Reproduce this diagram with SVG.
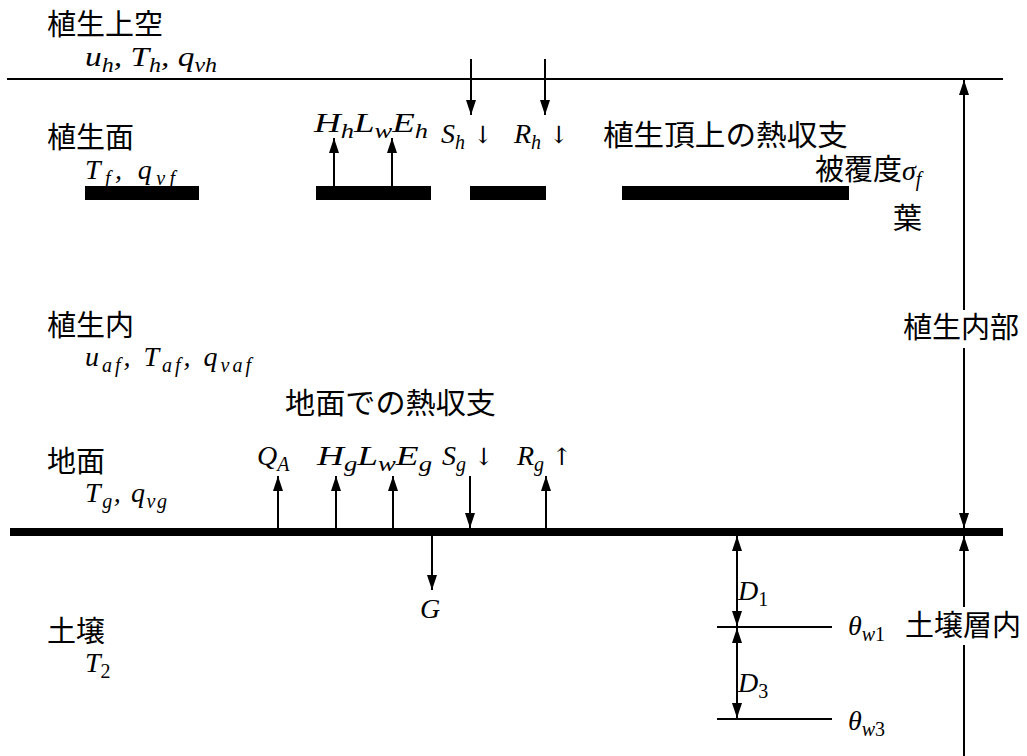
<svg xmlns="http://www.w3.org/2000/svg" width="1027" height="756" viewBox="0 0 1027 756">
<style>
.jp{font-family:"Noto Sans CJK JP","Noto Sans CJK SC",sans-serif;font-size:29px;fill:#000}
.m{font-family:"Liberation Serif",serif;font-style:italic;font-size:28px;fill:#000}
.s{font-size:20px}
.n{font-style:normal}
.ar{font-family:"DejaVu Serif",serif;font-style:normal;font-size:24px}
.ln{stroke:#000;stroke-width:2;fill:none}
.a{stroke:#000;stroke-width:2;fill:none;marker-end:url(#ah)}
.a2{stroke:#000;stroke-width:2;fill:none;marker-end:url(#ah);marker-start:url(#ah)}
.bar{fill:#000}
</style>
<defs>
<marker id="ah" viewBox="0 0 15 10" refX="15" refY="5" markerWidth="15" markerHeight="10" markerUnits="userSpaceOnUse" orient="auto-start-reverse">
<path d="M0,0 L15,5 L0,10 z" fill="#000"/>
</marker>
</defs>
<rect width="1027" height="756" fill="#fff"/>

<g id="above-canopy">
<text class="jp" x="47" y="35">植生上空</text>
<text class="m" x="85" y="66" textLength="132" lengthAdjust="spacingAndGlyphs">u<tspan class="s" dy="6">h</tspan><tspan dy="-6">, T</tspan><tspan class="s" dy="6">h</tspan><tspan dy="-6">, q</tspan><tspan class="s" dy="6">vh</tspan></text>
<line class="ln" x1="7" y1="79" x2="1003" y2="79"/>
</g>

<g id="canopy-surface">
<text class="jp" x="47" y="148">植生面</text>
<text class="m" x="85" y="179" textLength="90" lengthAdjust="spacing">T<tspan class="s" dy="6">f</tspan><tspan dy="-6">, q</tspan><tspan class="s" dy="6">vf</tspan></text>
<rect class="bar" x="85" y="186" width="114" height="14"/>
<rect class="bar" x="316" y="186" width="115" height="14"/>
<rect class="bar" x="470" y="186" width="76" height="14"/>
<rect class="bar" x="622" y="186" width="227" height="14"/>
<text class="m" x="314" y="132" textLength="114" lengthAdjust="spacingAndGlyphs">H<tspan class="s" dy="6">h</tspan><tspan dy="-6">L</tspan><tspan class="s" dy="6">w</tspan><tspan dy="-6">E</tspan><tspan class="s" dy="6">h</tspan></text>
<text class="m" x="441" y="143">S<tspan class="s" dy="6">h</tspan><tspan class="ar" dy="-6"> ↓</tspan></text>
<text class="m" x="514" y="143">R<tspan class="s" dy="6">h</tspan><tspan class="ar" dy="-6"> ↓</tspan></text>
<text class="jp" x="603" y="146" textLength="245" lengthAdjust="spacingAndGlyphs">植生頂上の熱収支</text>
<text class="jp" x="815" y="180">被覆度<tspan class="m">σ</tspan><tspan class="m s" dy="6">f</tspan></text>
<text class="jp" x="893" y="229">葉</text>
</g>

<g id="canopy-interior">
<text class="jp" x="47" y="336">植生内</text>
<text class="m" x="85" y="366" textLength="166" lengthAdjust="spacing">u<tspan class="s" dy="6">af</tspan><tspan dy="-6">, T</tspan><tspan class="s" dy="6">af</tspan><tspan dy="-6">, q</tspan><tspan class="s" dy="6">vaf</tspan></text>
<text class="jp" x="903" y="338">植生内部</text>
</g>

<g id="ground-surface">
<text class="jp" x="285" y="414" textLength="211" lengthAdjust="spacingAndGlyphs">地面での熱収支</text>
<text class="jp" x="47" y="472">地面</text>
<text class="m" x="85" y="502" textLength="82" lengthAdjust="spacing">T<tspan class="s" dy="6">g</tspan><tspan dy="-6">, q</tspan><tspan class="s" dy="6">vg</tspan></text>
<text class="m" x="257" y="465">Q<tspan class="s" dy="6">A</tspan></text>
<text class="m" x="317" y="465" textLength="115" lengthAdjust="spacingAndGlyphs">H<tspan class="s" dy="6">g</tspan><tspan dy="-6">L</tspan><tspan class="s" dy="6">w</tspan><tspan dy="-6">E</tspan><tspan class="s" dy="6">g</tspan></text>
<text class="m" x="442" y="465">S<tspan class="s" dy="6">g</tspan><tspan class="ar" dy="-6"> ↓</tspan></text>
<text class="m" x="517" y="465">R<tspan class="s" dy="6">g</tspan><tspan class="ar" dy="-6"> ↑</tspan></text>
<rect class="bar" x="10" y="528" width="993" height="8"/>
</g>

<g id="soil">
<text class="jp" x="47" y="642">土壌</text>
<text class="m" x="85" y="672">T<tspan class="s n" dy="6">2</tspan></text>
<text class="m" x="420" y="618">G</text>
<line class="ln" x1="717" y1="627" x2="832" y2="627"/>
<line class="ln" x1="717" y1="719" x2="832" y2="719"/>
<text class="m" x="738" y="600">D<tspan class="s n" dy="6">1</tspan></text>
<text class="m" x="738" y="692">D<tspan class="s n" dy="6">3</tspan></text>
<text class="m" x="848" y="635">θ<tspan class="s" dy="6">w</tspan><tspan class="s n">1</tspan></text>
<text class="m" x="848" y="730">θ<tspan class="s" dy="6">w</tspan><tspan class="s n">3</tspan></text>
<text class="jp" x="905" y="636">土壌層内</text>
</g>

<g id="connectors">
<line class="a" x1="471" y1="59" x2="471" y2="115"/>
<line class="a" x1="545" y1="59" x2="545" y2="115"/>
<line class="a" x1="334" y1="186" x2="334" y2="138"/>
<line class="a" x1="392" y1="186" x2="392" y2="138"/>
<line class="a" x1="278" y1="528" x2="278" y2="476"/>
<line class="a" x1="336" y1="528" x2="336" y2="476"/>
<line class="a" x1="393" y1="528" x2="393" y2="476"/>
<line class="a" x1="470" y1="476" x2="470" y2="528"/>
<line class="a" x1="546" y1="528" x2="546" y2="476"/>
<line class="a" x1="432" y1="536" x2="432" y2="590"/>
<line class="a2" x1="737" y1="536" x2="737" y2="626"/>
<line class="a2" x1="737" y1="628" x2="737" y2="718"/>
<line class="a" x1="964" y1="310" x2="964" y2="80"/>
<line class="a" x1="964" y1="348" x2="964" y2="528"/>
<line class="a" x1="964" y1="607" x2="964" y2="536"/>
<line class="ln" x1="964" y1="645" x2="964" y2="756"/>
</g>
</svg>
